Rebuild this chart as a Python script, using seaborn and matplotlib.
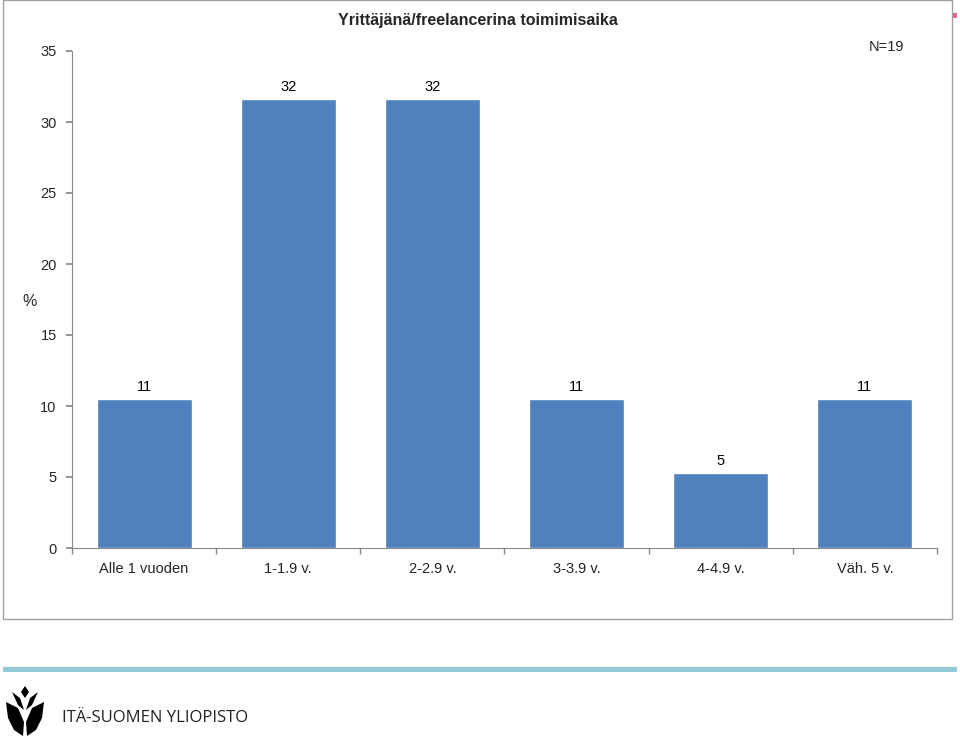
import matplotlib
matplotlib.use("Agg")
import matplotlib.pyplot as plt
import seaborn as sns
import pandas as pd
from matplotlib.patches import Rectangle, Polygon

categories = ["Alle 1 vuoden", "1-1.9 v.", "2-2.9 v.", "3-3.9 v.", "4-4.9 v.", "Väh. 5 v."]
values = [10.5, 31.6, 31.6, 10.5, 5.3, 10.5]
labels = ["11", "32", "32", "11", "5", "11"]
yticks = [0, 5, 10, 15, 20, 25, 30, 35]

sns.set_theme(style="white")
plt.rcParams["font.family"] = ["Liberation Sans", "DejaVu Sans"]

W, H = 960, 736
fig = plt.figure(figsize=(W / 100, H / 100), dpi=100)
ax = fig.add_axes([72 / W, 1 - 548 / H, (937 - 72) / W, (548 - 51) / H])

df = pd.DataFrame({"cat": categories, "val": values})
sns.barplot(data=df, x="cat", y="val", ax=ax, color="#4F81BD", saturation=1, width=0.66)

for i, (v, t) in enumerate(zip(values, labels)):
    ax.text(i, v + 0.35, t, ha="center", va="bottom", fontsize=10.5, color="black")

ax.set_ylim(0, 35)
ax.set_xlim(-0.5, len(categories) - 0.5)
ax.set_yticks(yticks)
ax.set_yticklabels([str(t) for t in yticks], fontsize=10.5)
ax.set_xticks(range(len(categories)))
ax.set_xticklabels(categories, fontsize=10.5)
ax.tick_params(axis="x", length=0, pad=10)
ax.tick_params(axis="y", length=4, color="#888888", direction="out", pad=7, left=True)
ax.set_xticks([i + 0.5 for i in range(-1, len(categories))], minor=True)
ax.tick_params(axis="x", which="minor", length=4, color="#888888", direction="out", bottom=True)
ax.set_xlabel("")
ax.set_ylabel("")
for s in ["top", "right"]:
    ax.spines[s].set_visible(False)
for s in ["left", "bottom"]:
    ax.spines[s].set_color("#888888")
    ax.spines[s].set_linewidth(0.8)

fig.text(478 / W, 1 - 20 / H, "Yrittäjänä/freelancerina toimimisaika", ha="center", va="center",
         fontsize=11.5, fontweight="bold")
fig.text(886 / W, 1 - 47 / H, "N=19", ha="center", va="center", fontsize=10.5)
fig.text(30 / W, 1 - 302 / H, "%", ha="center", va="center", fontsize=11.5)

# chart frame
fig.patches.append(Rectangle((3 / W, 1 - 619 / H), (952 - 3) / W, 619 / H, transform=fig.transFigure,
                             fill=False, edgecolor="#A0A0A0", linewidth=1))
# pink marker
fig.patches.append(Rectangle((953 / W, 1 - 18 / H), 4 / W, 5 / H, transform=fig.transFigure,
                             color="#E0669A", linewidth=0))
# footer bar
fig.patches.append(Rectangle((3 / W, 1 - 672 / H), (957 - 3) / W, 5 / H, transform=fig.transFigure,
                             color="#94CAD6", linewidth=0))

# simplified logo
def P(pts):
    return Polygon([(x / W, 1 - y / H) for x, y in pts], closed=True, transform=fig.transFigure,
                   color="black", linewidth=0)

fig.patches.append(P([(25, 686), (29, 692), (25, 698), (21, 692)]))
fig.patches.append(P([(6, 702), (18, 708), (24, 722), (23, 736), (14, 730), (8, 718)]))
fig.patches.append(P([(44, 702), (32, 708), (26, 722), (27, 736), (36, 730), (42, 718)]))
fig.patches.append(P([(12, 692), (20, 698), (24, 710), (18, 705)]))
fig.patches.append(P([(38, 692), (30, 698), (26, 710), (32, 705)]))
fig.text(62 / W, 1 - 718 / H, "ITÄ-SUOMEN YLIOPISTO", ha="left", va="center", fontsize=12,
         family=["Open Sans", "DejaVu Sans"], color="#222222")

fig.savefig("out.png", dpi=100)
